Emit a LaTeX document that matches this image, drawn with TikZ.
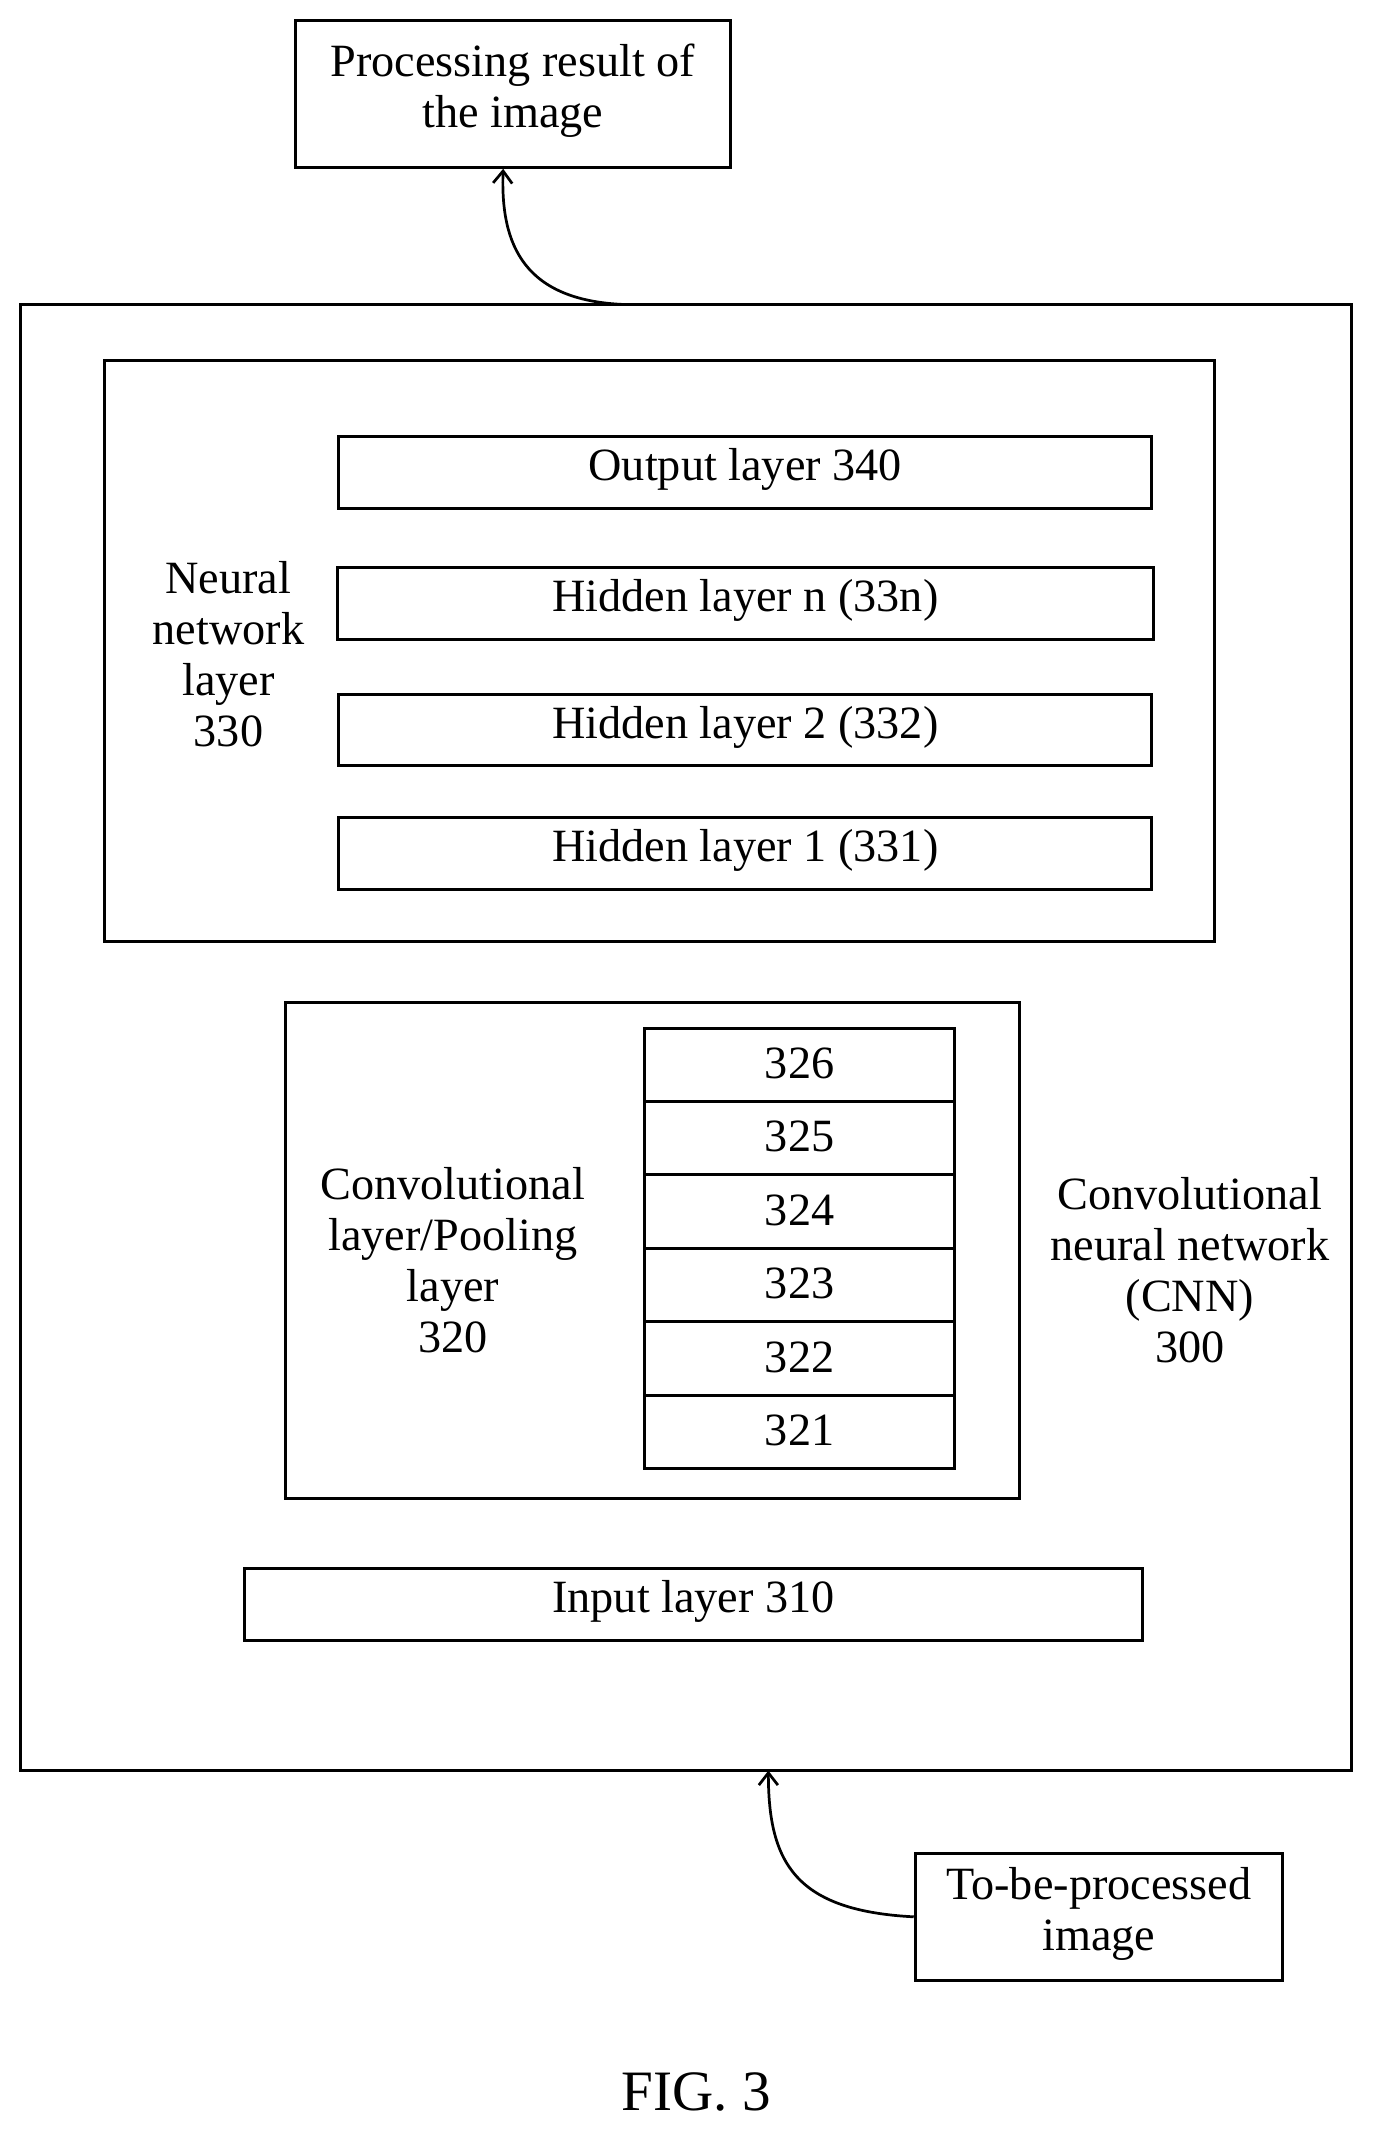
\documentclass[tikz,border=0pt]{standalone}
\usepackage{fontspec}
\setmainfont{Liberation Serif}
\usetikzlibrary{arrows.meta}
\begin{document}
\begin{tikzpicture}[x=1pt,y=-1pt,line width=2.2pt,
  bx/.style={draw,rectangle},
  txt/.style={align=center,font=\fontsize{34}{37.5}\selectfont,inner sep=0},
  arr/.style={-{Straight Barb[length=9pt,width=14pt]},line width=2pt}]
\useasboundingbox (0,0) rectangle (1010,1567);
\node[bx,minimum width=320,minimum height=108] (res) at (377,69) {};
\node[txt] at ([yshift=2]res.center) {Processing result of\\the image};
\node[bx,minimum width=979,minimum height=1078] (cnn) at (504.5,763) {};
\node[bx,minimum width=816,minimum height=427] (nn) at (485,478.5) {};
\node[bx,minimum width=598,minimum height=53] (out) at (548,347.5) {};
\node[txt] at ([yshift=2]out.center) {Output layer 340};
\node[bx,minimum width=600,minimum height=53] (hn) at (548,443.5) {};
\node[txt] at ([yshift=2]hn.center) {Hidden layer n (33n)};
\node[bx,minimum width=598,minimum height=52] (h2) at (548,537) {};
\node[txt] at ([yshift=2]h2.center) {Hidden layer 2 (332)};
\node[bx,minimum width=598,minimum height=53] (h1) at (548,627.5) {};
\node[txt] at ([yshift=2]h1.center) {Hidden layer 1 (331)};
\node[txt] (nnl) at (168,481) {Neural\\network\\layer\\330};
\node[bx,minimum width=540,minimum height=365] (conv) at (480,919.5) {};
\foreach \i/\t in {0/326,1/325,2/324,3/323,4/322,5/321}{
  \node[bx,minimum width=228,minimum height=54] (s\t) at (588,783+54*\i) {};
  \node[txt] at ([yshift=1]s\t.center) {\t};
}
\node[txt] (cl) at (333,927) {Convolutional\\layer/Pooling\\layer\\320};
\node[txt] (cn) at (875,934) {Convolutional\\neural network\\(CNN)\\300};
\node[bx,minimum width=660,minimum height=53] (in) at (510,1179.5) {};
\node[txt] at ([yshift=2]in.center) {Input layer 310};
\node[bx,minimum width=270,minimum height=93] (img) at (808,1409.5) {};
\node[txt] at ([yshift=2]img.center) {To-be-processed\\image};
\node[txt,font=\fontsize{42}{44}\selectfont] (fig) at (512,1538) {FIG. 3};
\coordinate (a1) at (462,224);
\draw[arr] (a1) .. controls (385,222) and (368,180) .. ([xshift=-7]res.south);
\coordinate (b1) at (565,1302);
\draw[arr] (img.west) .. controls (585,1405) and (565,1370) .. (b1);
\end{tikzpicture}
\end{document}
